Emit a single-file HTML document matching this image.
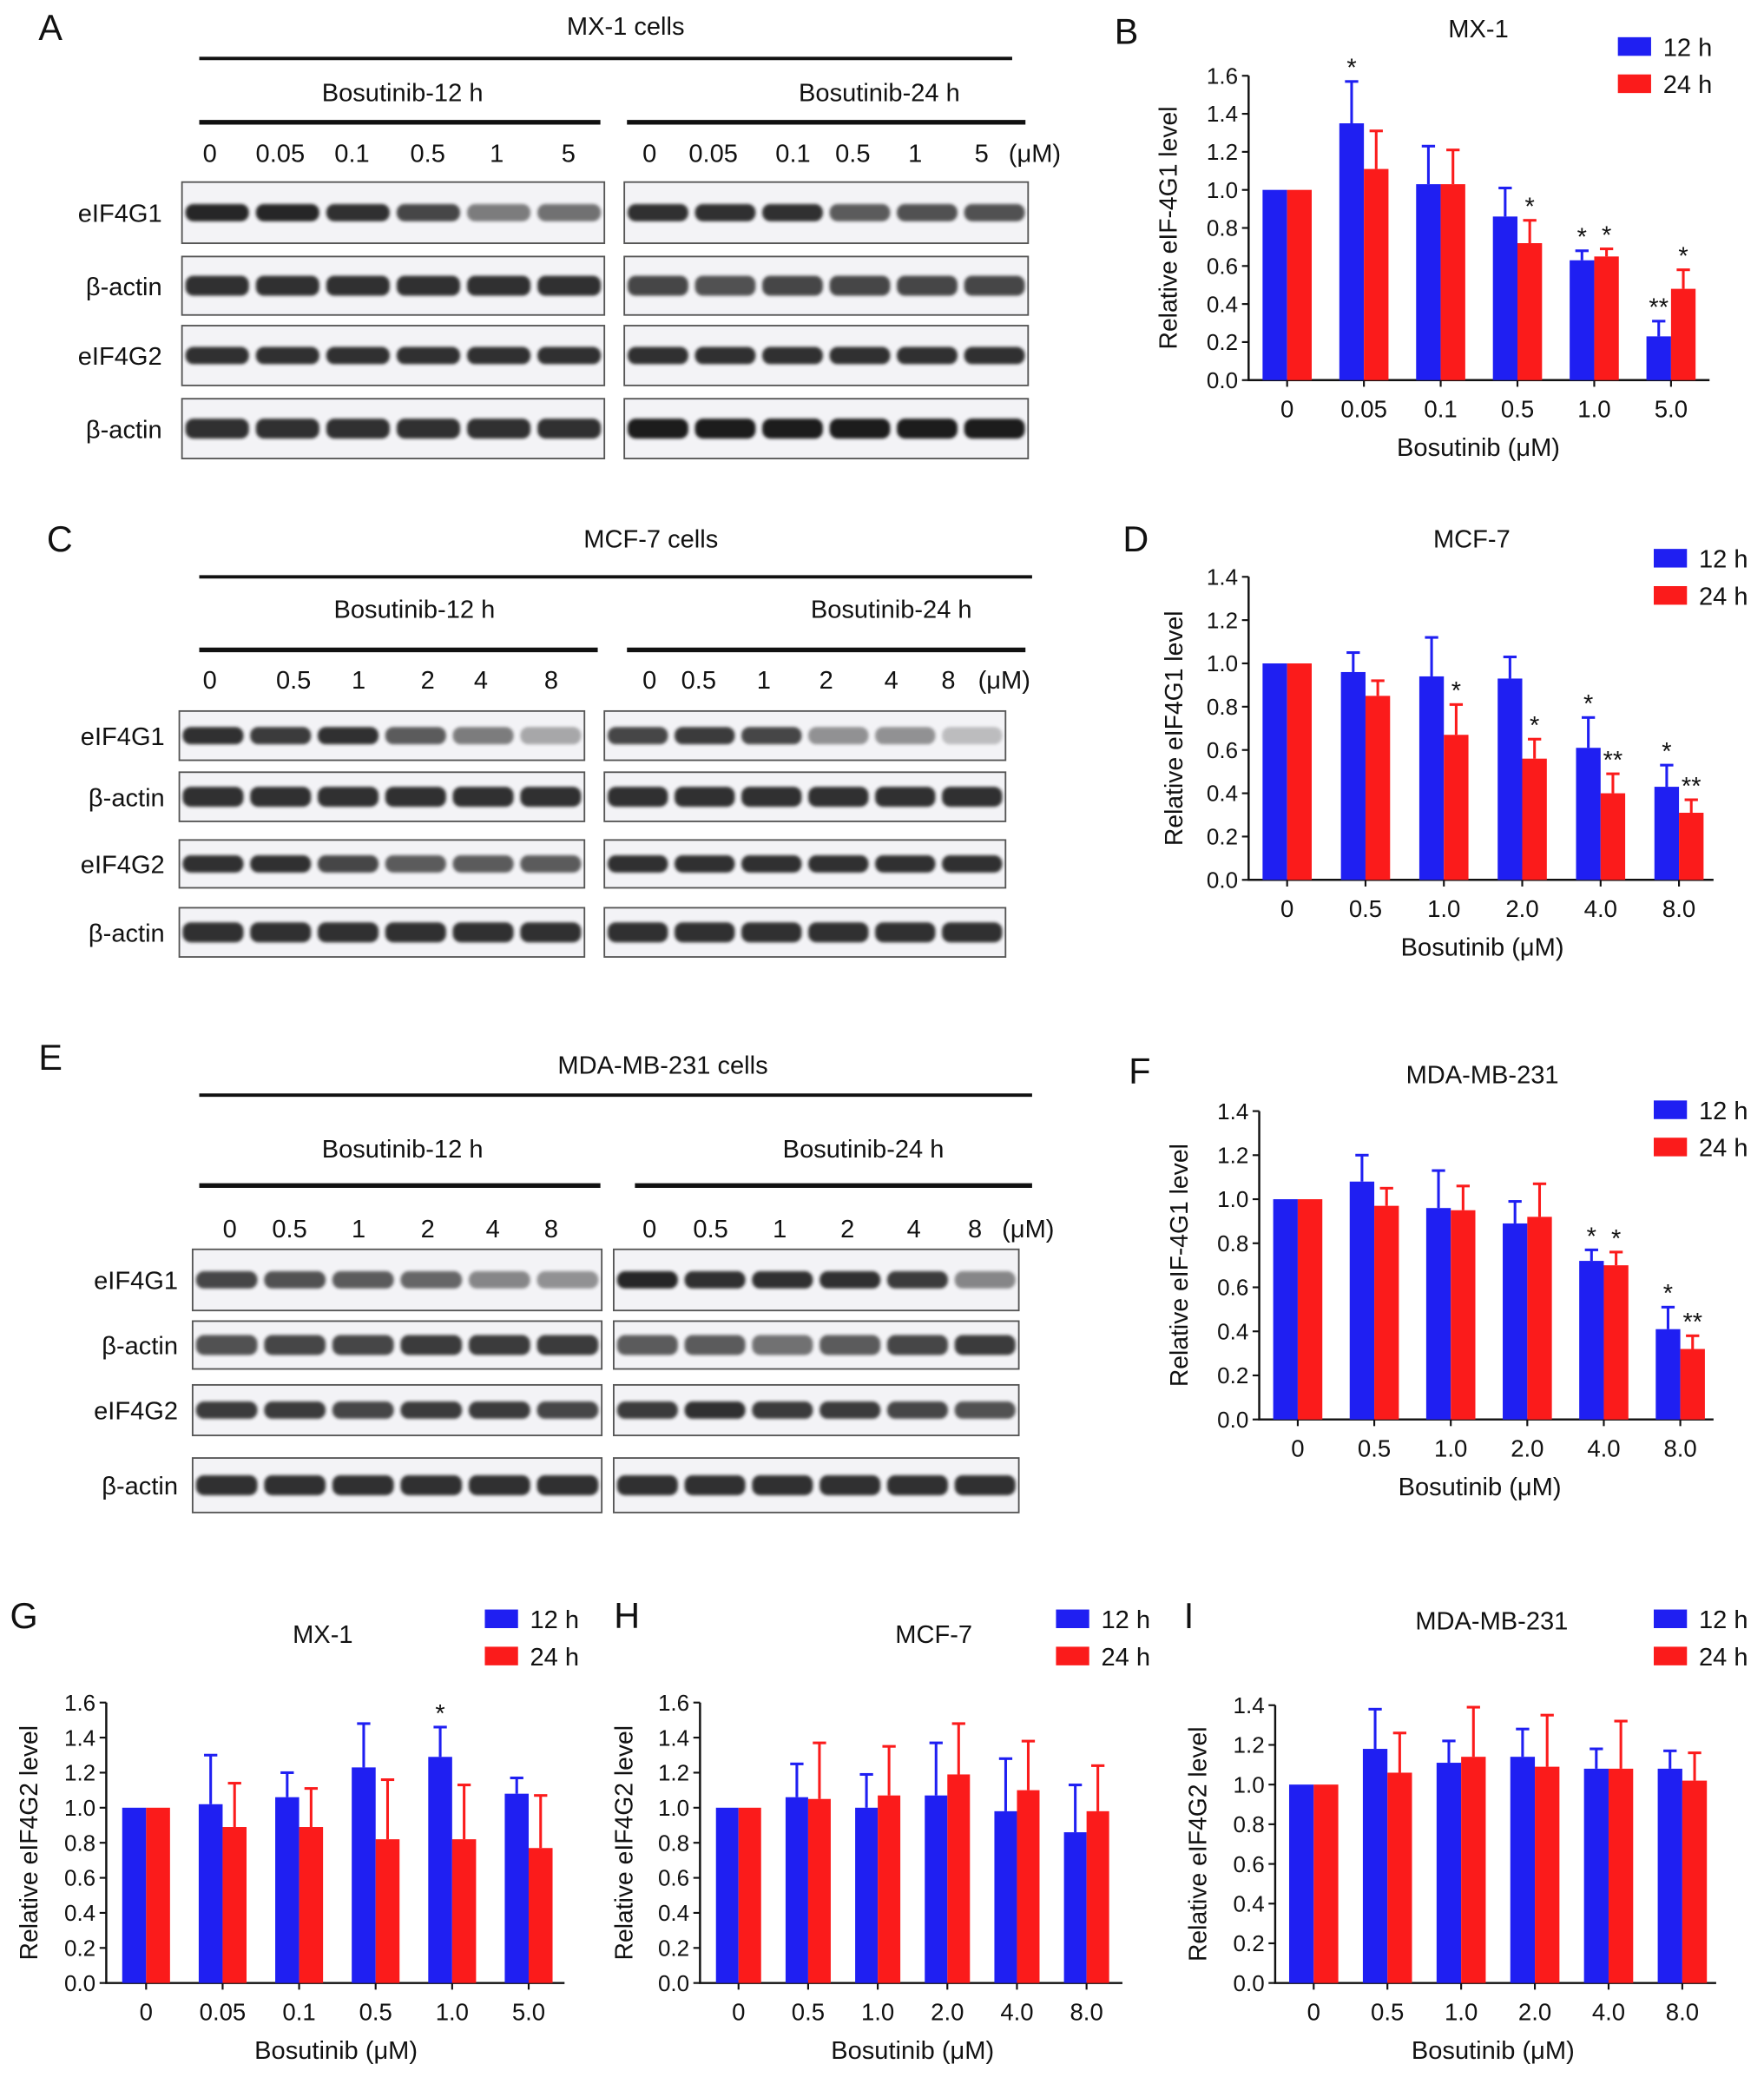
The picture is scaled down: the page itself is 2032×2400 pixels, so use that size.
<!DOCTYPE html>
<html><head><meta charset="utf-8"><style>
html,body{margin:0;padding:0;background:#fff}
svg{display:block}
text{font-family:"Liberation Sans",Arial,sans-serif;fill:#111}
</style></head><body>
<svg id="fig" xmlns="http://www.w3.org/2000/svg" width="2032" height="2400" viewBox="0 0 1328 1568" preserveAspectRatio="none">
<defs><filter id="blur" x="-20%" y="-50%" width="140%" height="200%"><feGaussianBlur stdDeviation="1.2"/></filter></defs>
<rect width="1328" height="1568" fill="#fff"/>
</svg>
<script>
// ---- Chart data ----
const catsB=["0","0.05","0.1","0.5","1.0","5.0"];
const blueB=[1,1.35,1.03,0.86,0.63,0.23];
const blueErrB=[0,0.22,0.2,0.15,0.05,0.08];
const redB=[1,1.11,1.03,0.72,0.65,0.48];
const redErrB=[0,0.2,0.18,0.12,0.04,0.1];
const starBlueB=["","*","","","*","**"];
const starRedB=["","","","*","*","*"];

const catsD=["0","0.5","1.0","2.0","4.0","8.0"];
const blueD=[1,0.96,0.94,0.93,0.61,0.43];
const blueErrD=[0,0.09,0.18,0.1,0.14,0.1];
const redD=[1,0.85,0.67,0.56,0.4,0.31];
const redErrD=[0,0.07,0.14,0.09,0.09,0.06];
const starBlueD=["","","","","*","*"];
const starRedD=["","","*","*","**","**"];

const catsF=["0","0.5","1.0","2.0","4.0","8.0"];
const blueF=[1,1.08,0.96,0.89,0.72,0.41];
const blueErrF=[0,0.12,0.17,0.1,0.05,0.1];
const redF=[1,0.97,0.95,0.92,0.7,0.32];
const redErrF=[0,0.08,0.11,0.15,0.06,0.06];
const starBlueF=["","","","","*","*"];
const starRedF=["","","","","*","**"];

const catsG=["0","0.05","0.1","0.5","1.0","5.0"];
const blueG=[1,1.02,1.06,1.23,1.29,1.08];
const blueErrG=[0,0.28,0.14,0.25,0.17,0.09];
const redG=[1,0.89,0.89,0.82,0.82,0.77];
const redErrG=[0,0.25,0.22,0.34,0.31,0.3];
const starBlueG=["","","","","*",""];
const starRedG=["","","","","",""];

const catsH=["0","0.5","1.0","2.0","4.0","8.0"];
const blueH=[1,1.06,1.0,1.07,0.98,0.86];
const blueErrH=[0,0.19,0.19,0.3,0.3,0.27];
const redH=[1,1.05,1.07,1.19,1.1,0.98];
const redErrH=[0,0.32,0.28,0.29,0.28,0.26];

const catsI=["0","0.5","1.0","2.0","4.0","8.0"];
const blueI=[1,1.18,1.11,1.14,1.08,1.08];
const blueErrI=[0,0.2,0.11,0.14,0.1,0.09];
const redI=[1,1.06,1.14,1.09,1.08,1.02];
const redErrI=[0,0.2,0.25,0.26,0.24,0.14];
const noStars=["","","","","",""];

const ticks16=["0.0","0.2","0.4","0.6","0.8","1.0","1.2","1.4","1.6"];
const ticks14=["0.0","0.2","0.4","0.6","0.8","1.0","1.2","1.4"];

const NS="http://www.w3.org/2000/svg";
const svg=document.getElementById('fig');
function el(tag,attrs,parent){const e=document.createElementNS(NS,tag);for(const k in attrs)e.setAttribute(k,attrs[k]);(parent||svg).appendChild(e);return e;}
function txt(s,x,y,size,anchor,parent,extra){const t=el('text',Object.assign({x:x,y:y,'font-size':size,'text-anchor':anchor||'middle'},extra||{}),parent);t.textContent=s;return t;}

const BLUE="#1f1ff2",RED="#fb1b1b";

function chart(c){
  const g=el('g',{});
  
  
  const yMax=c.ticks.length-1;const yMaxVal=parseFloat(c.ticks[yMax]);
  const ys=v=>c.y0-(v/yMaxVal)*(c.y0-c.yTop);
  const xs=i=>c.x0+i*c.step;
  const ax=el('path',{d:`M${c.ax},${c.yTop} L${c.ax},${c.y0} L${c.axEnd},${c.y0}`,stroke:'#111','stroke-width':1.6,fill:'none'},g);
  
  
  c.ticks.forEach((t,i)=>{
    const y=ys(parseFloat(t));
    el('line',{x1:c.ax-5,x2:c.ax,y1:y,y2:y,stroke:'#111','stroke-width':1.4},g);
    const tl=txt(t,c.ax-8,y+6,17,'end',g);
    
    
  });
  c.cats.forEach((cat,i)=>{
    const x=xs(i);
    el('line',{x1:x,x2:x,y1:c.y0,y2:c.y0+5,stroke:'#111','stroke-width':1.4},g);
    const tl=txt(cat,x,c.y0+28,18,'middle',g);
    
    
    [[c.blue,c.blueErr,BLUE,-1,c.starBlue],[c.red,c.redErr,RED,0,c.starRed]].forEach(([vals,errs,col,off,stars],si)=>{
      const v=vals[i],e=errs[i];
      const bx=x+off*c.bw, top=ys(v);
      const r=el('rect',{x:bx,y:top,width:c.bw,height:c.y0-top,fill:col},g);
      
      
      const cx=bx+c.bw/2;
      if(e>0){
        const et=ys(v+e);
        el('line',{x1:cx,x2:cx,y1:top,y2:et,stroke:col,'stroke-width':2},g);
        el('line',{x1:cx-5,x2:cx+5,y1:et,y2:et,stroke:col,'stroke-width':2},g);
      }
      if(stars[i]){const st=txt(stars[i],cx,ys(v+e)-4,19,'middle',g);
        
        }
    });
  });
  const ti=txt(c.title,c.titleX,c.titleY,19,'middle',g);
  
  
  const xl=txt('Bosutinib (μM)',c.xlX,c.y0+57,19,'middle',g);
  
  
  const yl=txt(c.ylabel,0,0,18.5,'middle',g,{transform:`translate(${c.ylX},${(c.y0+c.yTop)/2}) rotate(-90)`});
  
  
  [["12 h",BLUE,c.legY],["24 h",RED,c.legY+28]].forEach(([lab,col,y],k)=>{
    const lg=el('g',{},g);
    
    
    el('rect',{x:c.legX,y:y-7,width:25,height:14,fill:col},lg);
    txt(lab,c.legX+34,y+7,19,'start',lg);
  });
}

chart({name:'chart-b-mx1-eif4g1',cats:catsB,blue:blueB,blueErr:blueErrB,red:redB,redErr:redErrB,starBlue:starBlueB,starRed:starRedB,
 ticks:ticks16,ax:940,axEnd:1287,y0:286,yTop:57,x0:969,step:57.8,bw:18.5,title:'MX-1',titleX:1113,titleY:28,xlX:1113,ylabel:'Relative eIF-4G1 level',ylX:886,legX:1218,legY:35});
chart({name:'chart-d-mcf7-eif4g1',cats:catsD,blue:blueD,blueErr:blueErrD,red:redD,redErr:redErrD,starBlue:starBlueD,starRed:starRedD,
 ticks:ticks14,ax:940,axEnd:1290,y0:662,yTop:434,x0:969,step:59,bw:18.5,title:'MCF-7',titleX:1108,titleY:412,xlX:1116,ylabel:'Relative eIF4G1 level',ylX:890,legX:1245,legY:420});
chart({name:'chart-f-mdamb231-eif4g1',cats:catsF,blue:blueF,blueErr:blueErrF,red:redF,redErr:redErrF,starBlue:starBlueF,starRed:starRedF,
 ticks:ticks14,ax:948,axEnd:1290,y0:1068,yTop:836,x0:977,step:57.6,bw:18.5,title:'MDA-MB-231',titleX:1116,titleY:815,xlX:1114,ylabel:'Relative eIF-4G1 level',ylX:894,legX:1245,legY:835});
chart({name:'chart-g-mx1-eif4g2',cats:catsG,blue:blueG,blueErr:blueErrG,red:redG,redErr:redErrG,starBlue:starBlueG,starRed:starRedG,
 ticks:ticks16,ax:80,axEnd:425,y0:1492,yTop:1281,x0:110,step:57.6,bw:18,title:'MX-1',titleX:243,titleY:1236,xlX:253,ylabel:'Relative eIF4G2 level',ylX:28,legX:365,legY:1218});
chart({name:'chart-h-mcf7-eif4g2',cats:catsH,blue:blueH,blueErr:blueErrH,red:redH,redErr:redErrH,starBlue:noStars,starRed:noStars,
 ticks:ticks16,ax:527,axEnd:845,y0:1492,yTop:1281,x0:556,step:52.4,bw:17,title:'MCF-7',titleX:703,titleY:1236,xlX:687,ylabel:'Relative eIF4G2 level',ylX:476,legX:795,legY:1218});
chart({name:'chart-i-mdamb231-eif4g2',cats:catsI,blue:blueI,blueErr:blueErrI,red:redI,redErr:redErrI,starBlue:noStars,starRed:noStars,
 ticks:ticks14,ax:960,axEnd:1292,y0:1492,yTop:1283,x0:989,step:55.5,bw:18.5,title:'MDA-MB-231',titleX:1123,titleY:1226,xlX:1124,ylabel:'Relative eIF4G2 level',ylX:908,legX:1245,legY:1218});

[["A",38,30],["B",848,33],["C",45,415],["D",855,415],["E",38,805],["F",858,815],["G",18,1225],["H",472,1225],["I",895,1225]].forEach(([l,x,y])=>{
  const t=txt(l,x,y,27,'middle');
  
  
});

function blot(b){
  const g=el('g',{});
  
  
  txt(b.title,b.titleX,b.titleY,19,'middle',g);
  el('line',{x1:150,x2:b.topEnd,y1:b.topLine,y2:b.topLine,stroke:'#111','stroke-width':2.5},g);
  txt('Bosutinib-12 h',b.h12X,b.subY,19,'middle',g);
  txt('Bosutinib-24 h',b.h24X,b.subY,19,'middle',g);
  el('line',{x1:150,x2:b.l12End,y1:b.subLine,y2:b.subLine,stroke:'#111','stroke-width':3.5},g);
  el('line',{x1:b.l24Start,x2:b.l24End,y1:b.subLine,y2:b.subLine,stroke:'#111','stroke-width':3.5},g);
  b.dosesL.forEach((d,i)=>txt(d,b.dxL[i],b.doseY,19,'middle',g));
  b.dosesR.forEach((d,i)=>txt(d,b.dxR[i],b.doseY,19,'middle',g));
  txt('(μM)',b.umX,b.doseY,19,'middle',g);
  const labels=['eIF4G1','β-actin','eIF4G2','β-actin'];
  b.rows.forEach(([y1,y2],r)=>{
    const lt=txt(labels[r],b.labX,(y1+y2)/2+7,19,'end',g);
    
    
    [[b.boxL,b.dxL],[b.boxR,b.dxR]].forEach(([bx,dx],side)=>{
      el('rect',{x:bx[0],y:y1,width:bx[1]-bx[0],height:y2-y1,fill:'#f3f3f6',stroke:'#555','stroke-width':1.2},g);
      const n=6,w=(bx[1]-bx[0])/n;
      const inten=b.int[side][r];
      for(let i=0;i<n;i++){
        const cx=bx[0]+w*(i+0.5),cy=(y1+y2)/2;
        const h=r%2===1?15:13;
        el('rect',{x:cx-w*0.45,y:cy-h/2,width:w*0.9,height:h,rx:6,fill:'#1a1a1a',opacity:inten[i],filter:'url(#blur)'},g);
      }
    });
  });
}
const full=[0.9,0.9,0.9,0.9,0.9,0.9];
blot({name:'blot-a-mx1',title:'MX-1 cells',titleX:471,titleY:26,topEnd:762,topLine:44,h12X:303,h24X:662,subY:76,l12End:452,l24Start:472,l24End:772,subLine:92,
 dosesL:["0","0.05","0.1","0.5","1","5"],dxL:[158,211,265,322,374,428],dosesR:["0","0.05","0.1","0.5","1","5"],dxR:[489,537,597,642,689,739],umX:779,doseY:122,labX:122,
 boxL:[137,455],boxR:[470,774],rows:[[137,183],[193,237],[245,290],[300,345]],
 int:[[[0.95,0.95,0.9,0.8,0.55,0.6],full,full,full],[[0.9,0.9,0.9,0.7,0.75,0.75],[0.8,0.75,0.8,0.8,0.8,0.8],full,[1,1,1,1,1,1]]]});
blot({name:'blot-c-mcf7',title:'MCF-7 cells',titleX:490,titleY:412,topEnd:777,topLine:434,h12X:312,h24X:671,subY:465,l12End:450,l24Start:472,l24End:772,subLine:489,
 dosesL:["0","0.5","1","2","4","8"],dxL:[158,221,270,322,362,415],dosesR:["0","0.5","1","2","4","8"],dxR:[489,526,575,622,671,714],umX:756,doseY:518,labX:124,
 boxL:[135,440],boxR:[455,757],rows:[[535,572],[581,618],[632,668],[683,720]],
 int:[[[0.9,0.85,0.9,0.7,0.55,0.35],full,[0.9,0.9,0.8,0.7,0.7,0.7],full],[[0.8,0.85,0.8,0.45,0.45,0.25],full,full,full]]});
blot({name:'blot-e-mdamb231',title:'MDA-MB-231 cells',titleX:499,titleY:808,topEnd:777,topLine:824,h12X:303,h24X:650,subY:871,l12End:452,l24Start:478,l24End:777,subLine:892,
 dosesL:["0","0.5","1","2","4","8"],dxL:[173,218,270,322,371,415],dosesR:["0","0.5","1","2","4","8"],dxR:[489,535,587,638,688,734],umX:774,doseY:931,labX:134,
 boxL:[145,453],boxR:[462,767],rows:[[940,986],[994,1030],[1042,1080],[1097,1138]],
 int:[[[0.8,0.75,0.7,0.65,0.5,0.45],[0.75,0.8,0.8,0.85,0.85,0.85],[0.85,0.85,0.8,0.85,0.85,0.8],full],[[0.95,0.9,0.9,0.9,0.85,0.5],[0.7,0.7,0.6,0.7,0.8,0.85],[0.85,0.9,0.85,0.85,0.8,0.75],full]]});
</script>
</body></html>
